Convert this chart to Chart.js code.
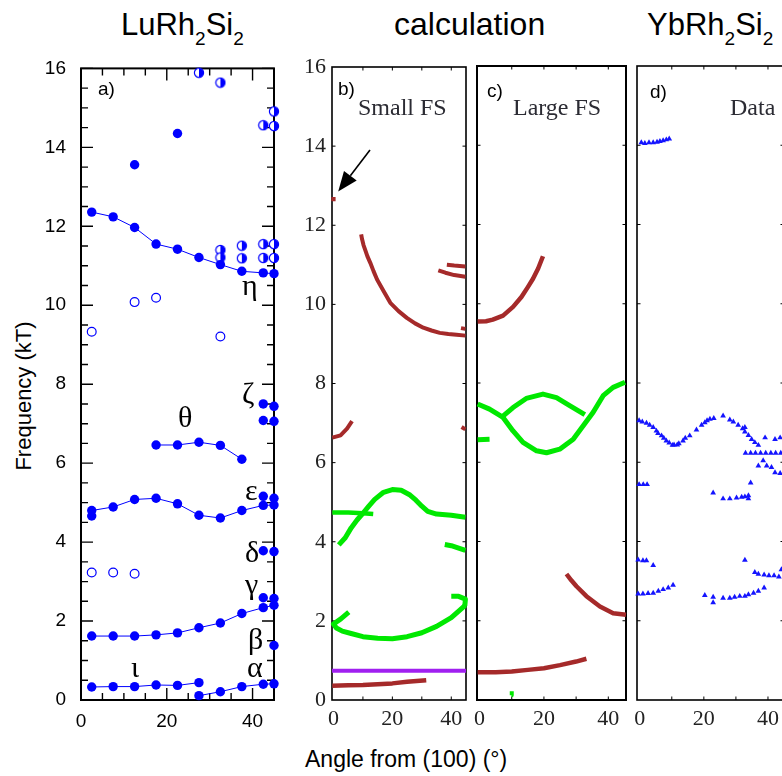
<!DOCTYPE html>
<html>
<head>
<meta charset="utf-8">
<script src="https://cdn.jsdelivr.net/npm/chart.js@4"></script>
<style>
  html, body { margin: 0; padding: 0; background: #fff; overflow: hidden; }
  body { width: 782px; height: 776px; position: relative; font-family: "Liberation Sans", Arial, sans-serif; color: #000; }
  canvas { position: absolute; }
  .t { position: absolute; white-space: nowrap; line-height: 1; }
  .head { font-size: 31px; }
  .head span { font-size: 19px; position: relative; top: 10px; }
  .serif { font-family: "Liberation Serif", "Times New Roman", serif; }
  .greek { font-family: "Liberation Serif", "DejaVu Serif", serif; font-size: 30px; }
  .fs { font-size: 24px; color: #2b2b33; }
  .pl { font-size: 19px; }
</style>
</head>
<body>
<div class="t head" style="left:121px; top:9px;">LuRh<span>2</span>Si<span>2</span></div>
<div class="t head" style="left:394px; top:8px; font-size:32px;">calculation</div>
<div class="t head" style="left:647px; top:9px;">YbRh<span>2</span>Si<span>2</span></div>
<div class="t" style="left:24px; top:396px; font-size:22px; transform: translate(-50%,-50%) rotate(-90deg);">Frequency (kT)</div>
<div class="t" style="left:305px; top:748px; font-size:23px;">Angle from (100) (°)</div>

<canvas id="pa"></canvas>
<canvas id="pb"></canvas>
<canvas id="pc"></canvas>
<canvas id="pd"></canvas>

<div class="t pl" style="left:98px; top:79px;">a)</div>
<div class="t pl" style="left:338px; top:79px;">b)</div>
<div class="t pl" style="left:487px; top:81px;">c)</div>
<div class="t pl" style="left:650px; top:82px;">d)</div>
<div class="t serif fs" style="left:358px; top:95px;">Small FS</div>
<div class="t serif fs" style="left:513px; top:95px;">Large FS</div>
<div class="t serif fs" style="left:730px; top:95px;">Data</div>

<div class="t greek" style="left:242px; top:270px;">η</div>
<div class="t greek" style="left:242px; top:378px;">ζ</div>
<div class="t greek" style="left:178px; top:402px;">θ</div>
<div class="t greek" style="left:245px; top:475px;">ε</div>
<div class="t greek" style="left:245px; top:537px;">δ</div>
<div class="t greek" style="left:245px; top:569px;">γ</div>
<div class="t greek" style="left:248px; top:624px;">β</div>
<div class="t greek" style="left:247px; top:652px;">α</div>
<div class="t greek" style="left:131px; top:652px;">ι</div>

<script>
// ---- tick labels ----
const freqTicks = [0, 2, 4, 6, 8, 10, 12, 14, 16];
const angleTicks = [0, 20, 40];

// ---- a) LuRh2Si2 measured (angle, kT) ----
const etaBranch = [[2.5,12.36],[7.5,12.24],[12.5,11.97],[17.5,11.55],[22.5,11.42],[27.5,11.21],[32.5,11.03],[37.5,10.86],[42.5,10.82],[45,10.80]];
const thetaBranch = [[17.5,6.46],[22.5,6.46],[27.5,6.53],[32.5,6.45],[37.5,6.10]];
const epsBranch = [[2.5,4.80],[7.5,4.89],[12.5,5.08],[17.5,5.11],[22.5,4.97],[27.5,4.68],[32.5,4.61],[37.5,4.80],[42.5,4.93],[45,4.94]];
const gammaBranch = [[2.5,1.62],[7.5,1.62],[12.5,1.62],[17.5,1.65],[22.5,1.70],[27.5,1.83],[32.5,1.95],[37.5,2.19],[42.5,2.34],[45,2.40]];
const iotaBranch = [[2.5,0.33],[7.5,0.34],[12.5,0.34],[17.5,0.38],[22.5,0.37],[27.5,0.44]];
const alphaBranch = [[27.5,0.11],[32.5,0.21],[37.5,0.34],[42.5,0.40],[45,0.41]];
const filledLoose = [[12.5,13.56],[22.5,14.35],[42.5,7.50],[45,7.44],[42.5,7.08],[45,7.06],[2.5,4.66],[42.5,5.16],[45,5.11],[42.5,3.78],[45,3.76],[42.5,2.59],[45,2.57],[45,1.38]];
const halfFilled = [[27.5,15.89],[32.5,15.64],[42.5,14.56],[45,14.91],[45,14.54],[32.5,11.40],[32.5,11.21],[37.5,11.51],[37.5,11.19],[42.5,11.55],[42.5,11.20],[45,11.55],[45,11.20]];
const openPts = [[2.5,9.33],[12.5,10.08],[17.5,10.19],[32.5,9.21],[2.5,3.23],[7.5,3.23],[12.5,3.20]];

// ---- b) small FS calculation ----
const bArrowPt = [[0,12.66]];
const bArc = [[9.4,11.77],[9.7,11.65],[10.2,11.5],[10.8,11.37],[11.5,11.22],[12.5,11.05],[13.6,10.84],[14.8,10.63],[17,10.34],[19.3,10.04],[22.1,9.83],[24.9,9.66],[27.7,9.52],[30.5,9.41],[33.3,9.34],[36.1,9.28],[39,9.25],[41.8,9.23],[44.8,9.21]];
const bRightLow = [[35.6,10.86],[38,10.8],[41,10.74],[44.8,10.70]];
const bRightHigh = [[38.5,11.0],[41,10.98],[44.8,10.96]];
const bDash93 = [[43.3,9.4],[44.8,9.38]];
const bDash68 = [[43.5,6.9],[44.8,6.84]];
const bHook66 = [[-0.4,6.63],[2.4,6.69],[4.6,6.86],[6.3,7.05]];
const bGreenFlat = [[-0.4,4.74],[5,4.74],[10,4.72],[13.5,4.7]];
const bGreenHump = [[1.8,3.92],[4,4.1],[6,4.35],[8,4.55],[10,4.72],[12,4.9],[14,5.07],[17,5.25],[20,5.32],[23,5.3],[26,5.18],[28,5.05],[30,4.9],[32,4.77],[35,4.7],[40,4.67],[44.8,4.62]];
const bGreenRight = [[37.8,3.93],[40,3.9],[42,3.85],[44.8,3.78]];
const bGreenLow = [[5.2,2.22],[2.5,2.05],[0,1.92],[1,1.82],[3,1.74],[6,1.68],[10,1.6],[15,1.56],[20,1.55],[25,1.6],[30,1.7],[35,1.86],[40,2.08],[43,2.28],[44.8,2.4]];
const bGreenHook = [[40,2.62],[42.5,2.62],[44.8,2.55],[44.6,2.38]];
const bPurple = [[-0.5,0.74],[45,0.74]];
const bBrownLow = [[-0.4,0.36],[5,0.37],[10,0.38],[15,0.4],[20,0.42],[25,0.46],[31.5,0.5]];
const bArrowTail = [12.4, 13.9];
const bArrowTip = [1.6, 12.85];

// ---- c) large FS calculation ----
const cArc = [[-0.6,9.55],[2,9.56],[4.1,9.6],[7.3,9.7],[10.4,9.92],[13,10.17],[15,10.42],[16.6,10.63],[18.2,10.89],[19.7,11.2]];
const cGreenLower = [[-0.6,7.47],[3.1,7.34],[7.3,7.13],[10.4,6.79],[13.5,6.5],[17.7,6.29],[20.8,6.24],[24.9,6.33],[29.1,6.58],[32.2,6.92],[35.3,7.26],[38.4,7.68],[41.5,7.89],[45.2,8.02]];
const cGreenUpper = [[6.8,7.13],[10.4,7.38],[14.5,7.61],[19.7,7.72],[23.9,7.63],[28,7.43],[32.7,7.2]];
const cGreenStub = [[-0.6,6.57],[3.1,6.58]];
const cGreenDot = [[9.9,0.12],[10,0.22]];
const cBrownLow = [[-0.6,0.7],[5,0.7],[10,0.72],[15,0.76],[20,0.8],[25,0.88],[30,0.97],[33.2,1.04]];
const cBrownRight = [[27,3.18],[28.5,3.02],[30.1,2.87],[33.2,2.62],[37.4,2.36],[41.5,2.19],[45.5,2.15]];

// ---- d) YbRh2Si2 data ----
const d14 = [[0.5,14.07],[1.6,14.05],[2.9,14.07],[4.2,14.07],[5.4,14.08],[6.3,14.1],[7.3,14.12],[8.3,14.14],[9.2,14.16]];
const dWave = [[-0.2,7.05],[0.8,7.02],[2.1,6.99],[3.1,6.94],[4.2,6.88],[5.2,6.79],[5.7,6.73],[6.8,6.67],[7.5,6.61],[8.3,6.54],[9.2,6.49],[10.2,6.43],[10.7,6.44],[11.7,6.44],[12.2,6.47],[13.5,6.54],[14.2,6.61],[15.6,6.67],[17.7,6.82],[19.3,6.94],[20.3,7.0],[21.0,7.05],[21.9,7.09],[23.1,7.11],[26.0,7.17],[28.1,7.07],[29.2,7.02],[30.7,6.94],[32.1,6.85],[32.8,6.88],[32.8,6.77],[33.9,6.68],[34.9,6.58],[35.9,6.5],[37.0,6.43],[39.1,6.62],[42.2,6.58],[43.8,6.62]];
const dRow62 = [[33.0,6.23],[34.6,6.23],[36.1,6.23],[37.7,6.23],[39.3,6.23],[40.9,6.23],[42.4,6.23],[44.0,6.23]];
const dFall = [[37.0,5.91],[38.5,6.04],[39.6,5.91],[41.1,5.87],[42.2,5.74],[43.8,5.72]];
const dRow54 = [[-0.2,5.44],[1.1,5.44],[2.3,5.44],[34.6,5.48]];
const dRow51 = [[22.9,5.23],[26.0,5.08],[28.1,5.08],[30.2,5.1],[31.8,5.12],[32.8,5.13],[33.9,5.16],[33.9,5.08]];
const dRow35 = [[-0.5,3.54],[1.0,3.52],[2.1,3.52],[4.2,3.4]];
const dRow32 = [[32.8,3.53],[35.9,3.22],[37,3.18],[38.8,3.16],[40.3,3.14],[41.9,3.14],[43.4,3.11],[44.2,3.29]];
const dRow27 = [[-0.5,2.68],[1.0,2.68],[2.6,2.69],[4.2,2.7],[5.8,2.75],[7.3,2.79],[8.9,2.83],[10.4,2.9]];
const dRow26 = [[20.3,2.64],[22.9,2.6],[22.9,2.46],[26,2.57],[28.1,2.57],[29.6,2.6],[31.2,2.62],[32.8,2.62],[33.9,2.66],[35.5,2.7],[37,2.75],[38.8,2.83]];

const BLUE = '#0000ff';
const BROWN = '#a52a2a';
const GREEN = '#00e800';
const PURPLE = '#a020f0';
const TRI = '#1414ff';

const xy = pairs => pairs.map(p => ({ x: p[0], y: p[1] }));
const steps = (a, b, s) => { const out = []; for (let v = a; v <= b + 1e-9; v += s) out.push(v); return out; };

// half-open circle marker
const halfDot = document.createElement('canvas');
halfDot.width = 12; halfDot.height = 12;
(() => {
    const g = halfDot.getContext('2d');
    g.fillStyle = '#fff';
    g.beginPath(); g.arc(6, 6, 4.6, 0, Math.PI * 2); g.fill();
    g.fillStyle = BLUE;
    g.beginPath(); g.arc(6, 6, 4.6, -Math.PI / 2, Math.PI / 2); g.closePath(); g.fill();
    g.strokeStyle = BLUE; g.lineWidth = 1.2;
    g.beginPath(); g.arc(6, 6, 4.6, 0, Math.PI * 2); g.stroke();
})();

function curve(pairs, color, width) {
    return { data: xy(pairs), showLine: true, borderColor: color, borderWidth: width,
             pointRadius: 0, borderCapStyle: 'butt', borderJoinStyle: 'round', clip: false };
}
function dots(pairs, style) {
    return Object.assign({ data: xy(pairs), showLine: false, clip: false }, style);
}
function branch(pairs) {
    return { data: xy(pairs), showLine: true, borderColor: BLUE, borderWidth: 1, clip: false,
             pointRadius: 4.7, pointBackgroundColor: BLUE, pointBorderWidth: 0 };
}

// frame and inward tick marks
const inTicks = {
    id: 'inTicks',
    beforeDatasetsDraw(chart, args, o) {
        const { ctx, chartArea: a, scales: { x, y } } = chart;
        ctx.save();
        ctx.strokeStyle = '#000';
        ctx.lineWidth = o.tickWidth;
        ctx.beginPath();
        const tx = (vals, len) => vals.forEach(v => {
            const p = x.getPixelForValue(v);
            ctx.moveTo(p, a.bottom); ctx.lineTo(p, a.bottom - len);
            ctx.moveTo(p, a.top); ctx.lineTo(p, a.top + len);
        });
        const ty = (vals, len) => vals.forEach(v => {
            const p = y.getPixelForValue(v);
            ctx.moveTo(a.left, p); ctx.lineTo(a.left + len, p);
            ctx.moveTo(a.right, p); ctx.lineTo(a.right - len, p);
        });
        tx(o.xMinor, o.minLen); tx(o.xMajor, o.majLen);
        ty(o.yMinor, o.minLen); ty(o.yMajor, o.majLen);
        ctx.stroke();
        ctx.lineWidth = o.frameWidth;
        ctx.strokeRect(a.left, a.top, a.right - a.left, a.bottom - a.top);
        ctx.restore();
    }
};

const arrow = {
    id: 'arrow',
    afterDatasetsDraw(chart) {
        const { ctx, scales: { x, y } } = chart;
        const x0 = x.getPixelForValue(bArrowTail[0]), y0 = y.getPixelForValue(bArrowTail[1]);
        const x1 = x.getPixelForValue(bArrowTip[0]), y1 = y.getPixelForValue(bArrowTip[1]);
        const ang = Math.atan2(y1 - y0, x1 - x0), L = 20, W = 8;
        const bx = x1 - L * Math.cos(ang), by = y1 - L * Math.sin(ang);
        ctx.save();
        ctx.strokeStyle = '#000'; ctx.fillStyle = '#000'; ctx.lineWidth = 1.6;
        ctx.beginPath(); ctx.moveTo(x0, y0); ctx.lineTo(bx, by); ctx.stroke();
        ctx.beginPath();
        ctx.moveTo(x1, y1);
        ctx.lineTo(bx + W * Math.sin(ang), by - W * Math.cos(ang));
        ctx.lineTo(bx - W * Math.sin(ang), by + W * Math.cos(ang));
        ctx.closePath(); ctx.fill();
        ctx.restore();
    }
};

function makePanel(id, area, p) {
    const cv = document.getElementById(id);
    cv.width = area.r - area.l + p.yw + p.pr;
    cv.height = area.b - area.t + p.pt + p.xh;
    cv.style.left = (area.l - p.yw) + 'px';
    cv.style.top = (area.t - p.pt) + 'px';
    return new Chart(cv, {
        type: 'scatter',
        data: { datasets: p.datasets },
        plugins: [inTicks].concat(p.extra || []),
        options: {
            responsive: false, animation: false, events: [],
            layout: { padding: { left: 0, right: p.pr, top: p.pt, bottom: 0 } },
            plugins: { legend: { display: false }, tooltip: { enabled: false }, inTicks: p.ticks },
            scales: {
                x: {
                    type: 'linear', min: p.xmin, max: p.xmax,
                    afterBuildTicks: s => { s.ticks = angleTicks.map(v => ({ value: v })); },
                    afterFit: s => { s.height = p.xh; },
                    grid: { display: false, drawTicks: false }, border: { display: false },
                    ticks: { font: p.font, color: p.color, padding: p.xpad, maxRotation: 0, autoSkip: false }
                },
                y: {
                    type: 'linear', min: 0, max: 16,
                    afterBuildTicks: s => { s.ticks = freqTicks.map(v => ({ value: v })); },
                    afterFit: s => { s.width = p.yw; },
                    grid: { display: false, drawTicks: false }, border: { display: false },
                    ticks: { display: p.showY, font: p.font, color: p.color, padding: p.ypad, autoSkip: false }
                }
            }
        }
    });
}

const sansFont = { family: "'Liberation Sans', Arial, sans-serif", size: 19 };
const serifFont = { family: "'Liberation Serif', 'Times New Roman', serif", size: 22 };
const thinTicks = { xMajor: [10, 20, 30, 40], xMinor: [], yMajor: [2, 4, 6, 8, 10, 12, 14], yMinor: [],
                    majLen: 3.5, minLen: 0, tickWidth: 1, frameWidth: 1.6 };

makePanel('pa', { l: 81, r: 274, t: 62, b: 700 }, {
    yw: 81, pr: 14, pt: 20, xh: 44, xmin: 0, xmax: 45,
    font: sansFont, color: '#000', xpad: 10, ypad: 15, showY: true,
    ticks: { xMajor: [20, 40], xMinor: steps(5, 40, 5), yMajor: freqTicks, yMinor: steps(0.5, 15.5, 0.5),
             majLen: 12, minLen: 7, tickWidth: 1.4, frameWidth: 2 },
    datasets: [
        branch(etaBranch), branch(thetaBranch), branch(epsBranch),
        branch(gammaBranch), branch(iotaBranch), branch(alphaBranch),
        dots(filledLoose, { pointRadius: 4.7, pointBackgroundColor: BLUE, pointBorderWidth: 0 }),
        dots(halfFilled, { pointStyle: halfDot }),
        dots(openPts, { pointRadius: 4.4, pointBackgroundColor: '#fff', pointBorderColor: BLUE, pointBorderWidth: 1.2 })
    ]
});

makePanel('pb', { l: 332, r: 466, t: 67, b: 700 }, {
    yw: 40, pr: 8, pt: 20, xh: 40, xmin: -0.5, xmax: 45,
    font: serifFont, color: '#222', xpad: 6, ypad: 6, showY: true,
    ticks: thinTicks, extra: [arrow],
    datasets: [
        curve(bPurple, PURPLE, 4),
        curve(bArc, BROWN, 4), curve(bRightLow, BROWN, 4), curve(bRightHigh, BROWN, 4),
        curve(bDash93, BROWN, 4), curve(bDash68, BROWN, 4), curve(bHook66, BROWN, 4),
        curve(bBrownLow, BROWN, 4.5),
        curve(bGreenFlat, GREEN, 4.5), curve(bGreenHump, GREEN, 5), curve(bGreenRight, GREEN, 5),
        curve(bGreenLow, GREEN, 5), curve(bGreenHook, GREEN, 5),
        dots(bArrowPt, { pointStyle: 'rect', pointRadius: 3, pointBackgroundColor: BROWN, pointBorderWidth: 0 })
    ]
});

makePanel('pc', { l: 477, r: 626, t: 66, b: 700 }, {
    yw: 10, pr: 8, pt: 20, xh: 40, xmin: -0.8, xmax: 45.5,
    font: serifFont, color: '#222', xpad: 6, ypad: 6, showY: false,
    ticks: Object.assign({}, thinTicks, { frameWidth: 2 }),
    datasets: [
        curve(cArc, BROWN, 4.5), curve(cBrownLow, BROWN, 4.5), curve(cBrownRight, BROWN, 4.5),
        curve(cGreenLower, GREEN, 5), curve(cGreenUpper, GREEN, 5), curve(cGreenStub, GREEN, 5),
        curve(cGreenDot, GREEN, 4)
    ]
});

const triStyle = { pointStyle: 'triangle', pointRadius: 3.3, pointBackgroundColor: TRI, pointBorderColor: TRI, pointBorderWidth: 0 };
makePanel('pd', { l: 637, r: 784, t: 66, b: 700 }, {
    yw: 10, pr: 8, pt: 20, xh: 40, xmin: -0.85, xmax: 45,
    font: serifFont, color: '#222', xpad: 6, ypad: 6, showY: false,
    ticks: thinTicks,
    datasets: [d14, dWave, dRow62, dFall, dRow54, dRow51, dRow35, dRow32, dRow27, dRow26].map(s => dots(s, triStyle))
});
</script>
</body>
</html>
